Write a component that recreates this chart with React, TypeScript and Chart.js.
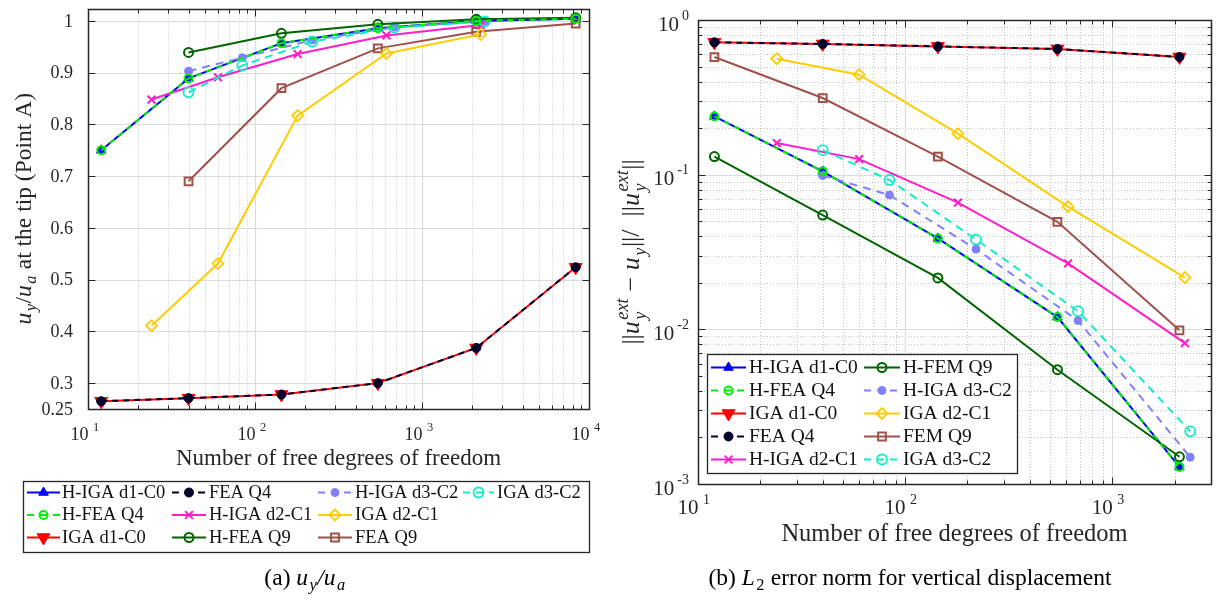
import React, { useEffect, useRef } from 'react';
import { Chart, registerables } from 'chart.js';

Chart.register(...registerables);

const SERIF = '"Liberation Serif", "DejaVu Serif", serif';
const AXIS_COLOR = '#262626';
const GRID_MAJOR = '#dcdcdc';
const GRID_MINOR = '#c4c4c4';

// ---------------- Panel (a): u_y/u_a at the tip ----------------
const dofA_Q4 = [12, 40, 144, 544, 2112, 8320];
const dofA_Q9 = [40, 144, 544, 2112, 8320];
const dofA_D2 = [24, 60, 180, 612, 2244];
const dofA_D3 = [40, 84, 220, 684, 2380];

const tipHIgaD1C0 = [0.75, 0.889, 0.957, 0.986, 1.0, 1.004];
const tipHFeaQ4 = [0.75, 0.889, 0.957, 0.986, 1.0, 1.004];
const tipIgaD1C0 = [0.265, 0.271, 0.278, 0.3, 0.368, 0.524];
const tipFeaQ4 = [0.265, 0.271, 0.278, 0.3, 0.368, 0.524];
const tipHIgaD2C1 = [0.848, 0.891, 0.936, 0.972, 0.992];
const tipHFeaQ9 = [0.939, 0.976, 0.9935, 1.003, 1.006];
const tipHIgaD3C2 = [0.903, 0.929, 0.963, 0.988, 0.999];
const tipIgaD2C1 = [0.411, 0.531, 0.817, 0.937, 0.974];
const tipFeaQ9 = [0.69, 0.87, 0.947, 0.979, 0.995];
const tipIgaD3C2 = [0.862, 0.914, 0.96, 0.987, 0.999];

const tickA_X = [10, 100, 1000, 10000];
const tickA_Y = [0.25, 0.3, 0.4, 0.5, 0.6, 0.7, 0.8, 0.9, 1];
const tickLabelA_Y = ['0.25', '0.3', '0.4', '0.5', '0.6', '0.7', '0.8', '0.9', '1'];

const labelsA = ['H-IGA d1-C0', 'H-FEA Q4', 'IGA d1-C0', 'FEA Q4', 'H-IGA d2-C1', 'H-FEA Q9', 'H-IGA d3-C2', 'IGA d2-C1', 'FEA Q9', 'IGA d3-C2'];

// ---------------- Panel (b): L2 error norm ----------------
const dofB_Q4 = [12, 40, 144, 544, 2112];
const dofB_Q9 = [12, 40, 144, 544, 2112];
const dofB_D2 = [24, 60, 180, 612, 2244];
const dofB_D3 = [40, 84, 220, 684, 2380];

const errHIgaD1C0 = [0.238, 0.105, 0.0387, 0.012, 0.00129];
const errHFeaQ4 = [0.238, 0.105, 0.0387, 0.012, 0.00129];
const errIgaD1C0 = [0.717, 0.7, 0.675, 0.65, 0.577];
const errFeaQ4 = [0.717, 0.7, 0.675, 0.65, 0.577];
const errHIgaD2C1 = [0.16, 0.126, 0.0659, 0.0267, 0.00815];
const errHFemQ9 = [0.131, 0.0548, 0.0215, 0.00548, 0.0015];
const errHIgaD3C2 = [0.0986, 0.0739, 0.033, 0.0114, 0.00149];
const errIgaD2C1 = [0.562, 0.443, 0.184, 0.0621, 0.0216];
const errFemQ9 = [0.576, 0.313, 0.131, 0.0496, 0.00986];
const errIgaD3C2 = [0.144, 0.0924, 0.0381, 0.0131, 0.00219];

const tickB_X = [10, 100, 1000];
const tickB_Y = [0.001, 0.01, 0.1, 1];

const labelsB = ['H-IGA d1-C0', 'H-FEA Q4', 'IGA d1-C0', 'FEA Q4', 'H-IGA d2-C1', 'H-FEM Q9', 'H-IGA d3-C2', 'IGA d2-C1', 'FEM Q9', 'IGA d3-C2'];

// ---------------- Styles (same order as labels) ----------------
type Style = { color: string; dash: number[]; marker: string; r: number; filled: boolean; lw: number; mlw: number; order: number };
const STYLES: Style[] = [
  { color: '#0000ff', dash: [], marker: 'triangle', r: 5.5, filled: true, lw: 2, mlw: 1, order: 8 },
  { color: '#00ee00', dash: [6, 5], marker: 'circle', r: 4, filled: false, lw: 2, mlw: 2, order: 1 },
  { color: '#ff0000', dash: [], marker: 'triangleDown', r: 7.5, filled: true, lw: 2, mlw: 1, order: 9 },
  { color: '#00002a', dash: [6, 5], marker: 'circle', r: 4.5, filled: true, lw: 2, mlw: 1, order: 0 },
  { color: '#ff1ecb', dash: [], marker: 'crossRot', r: 5.5, filled: false, lw: 2, mlw: 2, order: 4 },
  { color: '#006400', dash: [], marker: 'circle', r: 4.5, filled: false, lw: 2, mlw: 2, order: 2 },
  { color: '#8080ff', dash: [8, 6], marker: 'circle', r: 4, filled: true, lw: 2, mlw: 1, order: 5 },
  { color: '#ffcc00', dash: [], marker: 'rectRot', r: 5.5, filled: false, lw: 2, mlw: 1.8, order: 6 },
  { color: '#a0524a', dash: [], marker: 'rect', r: 5.5, filled: false, lw: 2, mlw: 2, order: 7 },
  { color: '#10eec8', dash: [8, 6], marker: 'circle', r: 5, filled: false, lw: 2, mlw: 1.8, order: 3 },
];

function makeDataset(label: string, xs: number[], ys: number[], st: Style) {
  return {
    label,
    data: xs.map((x, i) => ({ x, y: ys[i] })),
    borderColor: st.color,
    backgroundColor: st.color,
    borderWidth: st.lw,
    borderDash: st.dash,
    pointStyle: st.marker === 'triangleDown' ? 'triangle' : st.marker,
    pointRotation: st.marker === 'triangleDown' ? 180 : 0,
    pointRadius: st.r,
    pointBorderWidth: st.mlw,
    pointBorderColor: st.color,
    pointBackgroundColor: st.filled ? st.color : 'rgba(0,0,0,0)',
    tension: 0,
    fill: false,
    order: st.order,
    clip: 10,
  };
}

// ---------------- Drawing helpers ----------------
function fontStr(size: number, it?: boolean) {
  return `${it ? 'italic ' : ''}${size}px ${SERIF}`;
}

type Seg = { t: string; it?: boolean; sub?: string; sup?: string; scriptUp?: boolean };

function segScriptWidth(ctx: CanvasRenderingContext2D, s: Seg, F: number) {
  if (!s.sub && !s.sup) return 0;
  ctx.font = fontStr(F * 0.7, s.it && !s.scriptUp);
  let w = 0;
  if (s.sub) w = Math.max(w, ctx.measureText(s.sub).width);
  if (s.sup) w = Math.max(w, ctx.measureText(s.sup).width);
  return w + F * 0.08;
}

function richWidth(ctx: CanvasRenderingContext2D, segs: Seg[], F: number) {
  let w = 0;
  for (const s of segs) {
    ctx.font = fontStr(F, s.it);
    w += ctx.measureText(s.t).width;
    w += segScriptWidth(ctx, s, F);
  }
  return w;
}

function drawRich(ctx: CanvasRenderingContext2D, segs: Seg[], cx: number, cy: number, F: number, color: string) {
  const w = richWidth(ctx, segs, F);
  let x = cx - w / 2;
  const base = cy + F * 0.32;
  ctx.textAlign = 'left';
  ctx.textBaseline = 'alphabetic';
  ctx.fillStyle = color;
  for (const s of segs) {
    ctx.font = fontStr(F, s.it);
    ctx.fillText(s.t, x, base);
    x += ctx.measureText(s.t).width;
    if (s.sub || s.sup) {
      const sw = segScriptWidth(ctx, s, F);
      ctx.font = fontStr(F * 0.7, s.it && !s.scriptUp);
      const xs = x + F * 0.06;
      if (s.sub) ctx.fillText(s.sub, xs, base + F * 0.24);
      if (s.sup) ctx.fillText(s.sup, xs, base - F * 0.42);
      x += sw;
    }
  }
}

function drawRichRotated(ctx: CanvasRenderingContext2D, segs: Seg[], cx: number, cy: number, F: number, color: string) {
  ctx.save();
  ctx.translate(cx, cy);
  ctx.rotate(-Math.PI / 2);
  drawRich(ctx, segs, 0, 0, F, color);
  ctx.restore();
}

function logMinors(lo: number, hi: number): number[] {
  const out: number[] = [];
  for (let e = Math.floor(Math.log10(lo)) - 1; e <= Math.ceil(Math.log10(hi)); e++) {
    for (let k = 2; k <= 9; k++) {
      const v = k * Math.pow(10, e);
      if (v > lo * 1.0001 && v < hi * 0.9999) out.push(v);
    }
  }
  return out;
}

function vLine(ctx: CanvasRenderingContext2D, x: number, y0: number, y1: number) {
  const px = Math.round(x) + 0.5;
  ctx.beginPath();
  ctx.moveTo(px, y0);
  ctx.lineTo(px, y1);
  ctx.stroke();
}
function hLine(ctx: CanvasRenderingContext2D, y: number, x0: number, x1: number) {
  const py = Math.round(y) + 0.5;
  ctx.beginPath();
  ctx.moveTo(x0, py);
  ctx.lineTo(x1, py);
  ctx.stroke();
}

function drawMarker(ctx: CanvasRenderingContext2D, st: Style, x: number, y: number) {
  const r = st.r;
  ctx.save();
  ctx.setLineDash([]);
  ctx.lineWidth = st.mlw;
  ctx.strokeStyle = st.color;
  ctx.fillStyle = st.color;
  ctx.beginPath();
  if (st.marker === 'circle') {
    ctx.arc(x, y, r, 0, Math.PI * 2);
  } else if (st.marker === 'triangle' || st.marker === 'triangleDown') {
    let a = st.marker === 'triangle' ? 0 : Math.PI;
    for (let i = 0; i < 3; i++) {
      const px = x + Math.sin(a) * r;
      const py = y - Math.cos(a) * r;
      if (i === 0) ctx.moveTo(px, py); else ctx.lineTo(px, py);
      a += (2 * Math.PI) / 3;
    }
    ctx.closePath();
  } else if (st.marker === 'rect') {
    const s = r * Math.SQRT1_2;
    ctx.rect(x - s, y - s, 2 * s, 2 * s);
  } else if (st.marker === 'rectRot') {
    ctx.moveTo(x - r, y);
    ctx.lineTo(x, y - r);
    ctx.lineTo(x + r, y);
    ctx.lineTo(x, y + r);
    ctx.closePath();
  } else if (st.marker === 'crossRot') {
    const d = r * Math.SQRT1_2;
    ctx.moveTo(x - d, y - d);
    ctx.lineTo(x + d, y + d);
    ctx.moveTo(x + d, y - d);
    ctx.lineTo(x - d, y + d);
  }
  if (st.filled) ctx.fill();
  ctx.stroke();
  ctx.restore();
}

type Col = { l0: number; l1: number; tx: number };
function drawLegend(
  ctx: CanvasRenderingContext2D,
  labels: string[],
  box: { x: number; y: number; w: number; h: number },
  cols: Col[],
  rows: number[],
  F: number
) {
  ctx.save();
  ctx.fillStyle = '#ffffff';
  ctx.fillRect(box.x, box.y, box.w, box.h);
  ctx.strokeStyle = AXIS_COLOR;
  ctx.lineWidth = 1.3;
  ctx.setLineDash([]);
  ctx.strokeRect(box.x + 0.5, box.y + 0.5, box.w, box.h);
  labels.forEach((lab, i) => {
    const st = STYLES[i];
    const c = cols[Math.floor(i / rows.length)];
    const y = rows[i % rows.length];
    ctx.save();
    ctx.strokeStyle = st.color;
    ctx.lineWidth = st.lw;
    ctx.setLineDash(st.dash.length ? [7, 6] : []);
    ctx.beginPath();
    ctx.moveTo(c.l0, y + 0.5);
    ctx.lineTo(c.l1, y + 0.5);
    ctx.stroke();
    ctx.restore();
    drawMarker(ctx, st, (c.l0 + c.l1) / 2, y + 0.5);
    ctx.font = fontStr(F);
    ctx.fillStyle = '#111111';
    ctx.textAlign = 'left';
    ctx.textBaseline = 'middle';
    ctx.fillText(lab, c.tx, y + 1);
  });
  ctx.restore();
}

function drawPow10(ctx: CanvasRenderingContext2D, e: number, xRightOf10: number, cy10: number, cyExp: number, F: number, Fe: number, expLeft: number | null, expRight: number | null) {
  ctx.save();
  ctx.fillStyle = AXIS_COLOR;
  ctx.textBaseline = 'middle';
  const es = e < 0 ? '-' + Math.abs(e) : String(e);
  ctx.font = fontStr(Fe);
  const ew = ctx.measureText(es).width;
  let tenRight = xRightOf10;
  let ex = 0;
  if (expRight !== null) {
    ex = expRight - ew;
    tenRight = ex - 3;
  } else {
    ex = expLeft as number;
  }
  ctx.textAlign = 'left';
  ctx.fillText(es, ex, cyExp);
  ctx.font = fontStr(F);
  ctx.textAlign = 'right';
  ctx.fillText('10', tenRight, cy10);
  ctx.restore();
}

function drawFrameAndTicks(
  ctx: CanvasRenderingContext2D,
  ar: { left: number; right: number; top: number; bottom: number },
  xMaj: number[], xMin: number[], yMaj: number[], yMin: number[]
) {
  ctx.save();
  ctx.strokeStyle = AXIS_COLOR;
  ctx.lineWidth = 1;
  ctx.setLineDash([]);
  const L = Math.round(ar.left) + 0.5, R = Math.round(ar.right) + 0.5;
  const T = Math.round(ar.top) + 0.5, B = Math.round(ar.bottom) + 0.5;
  const tick = (len: number, xs: number[], ys: number[]) => {
    for (const x of xs) {
      vLine(ctx, x, B, B - len);
      vLine(ctx, x, T, T + len);
    }
    for (const y of ys) {
      hLine(ctx, y, L, L + len);
      hLine(ctx, y, R, R - len);
    }
  };
  tick(7, xMaj, yMaj);
  tick(4, xMin, yMin);
  ctx.lineWidth = 1.5;
  ctx.strokeRect(L, T, R - L, B - T);
  ctx.restore();
}

// ---------------- Plugins ----------------
const decorA = {
  id: 'decorA',
  beforeDatasetsDraw(chart: any) {
    const { ctx, chartArea: ar } = chart;
    const x = chart.scales.x, y = chart.scales.y;
    ctx.save();
    ctx.lineWidth = 1;
    ctx.strokeStyle = GRID_MINOR;
    ctx.setLineDash([1, 2]);
    for (const v of logMinors(10, 10000)) vLine(ctx, x.getPixelForValue(v), ar.top, ar.bottom);
    ctx.setLineDash([]);
    ctx.strokeStyle = GRID_MAJOR;
    ctx.lineWidth = 1.2;
    for (const v of tickA_X) vLine(ctx, x.getPixelForValue(v), ar.top, ar.bottom);
    for (const v of tickA_Y) if (v > 0.25) hLine(ctx, y.getPixelForValue(v), ar.left, ar.right);
    ctx.restore();
  },
  afterDraw(chart: any) {
    const { ctx, chartArea: ar } = chart;
    const x = chart.scales.x, y = chart.scales.y;
    drawFrameAndTicks(
      ctx, ar,
      tickA_X.map((v) => x.getPixelForValue(v)),
      logMinors(10, 10000).map((v) => x.getPixelForValue(v)),
      tickA_Y.map((v) => y.getPixelForValue(v)),
      []
    );
    ctx.save();
    ctx.fillStyle = AXIS_COLOR;
    ctx.font = fontStr(18);
    ctx.textAlign = 'right';
    ctx.textBaseline = 'middle';
    tickA_Y.forEach((v, i) => ctx.fillText(tickLabelA_Y[i], ar.left - 15, y.getPixelForValue(v) + 1));
    ctx.restore();
    for (const v of tickA_X) {
      const px = x.getPixelForValue(v);
      drawPow10(ctx, Math.round(Math.log10(v)), px + 0.5, ar.bottom + 26, ar.bottom + 19, 18, 12.5, px + 5, null);
    }
    ctx.save();
    ctx.fillStyle = AXIS_COLOR;
    ctx.font = fontStr(23);
    ctx.textAlign = 'center';
    ctx.textBaseline = 'middle';
    ctx.fillText('Number of free degrees of freedom', (ar.left + ar.right) / 2, 459);
    ctx.restore();
    drawRichRotated(
      ctx,
      [{ t: 'u', it: true, sub: 'y' }, { t: '/' }, { t: 'u', it: true, sub: 'a' }, { t: ' at the tip (Point A)' }],
      23, (ar.top + ar.bottom) / 2, 23.5, AXIS_COLOR
    );
    drawLegend(
      ctx, labelsA,
      { x: 23, y: 481, w: 566, h: 71 },
      [
        { l0: 27, l1: 60, tx: 62 },
        { l0: 172, l1: 206, tx: 209 },
        { l0: 318, l1: 352, tx: 355 },
        { l0: 463, l1: 494, tx: 497 },
      ],
      [492, 514.5, 537],
      18.5
    );
    drawRich(
      ctx,
      [{ t: '(a) ' }, { t: 'u', it: true, sub: 'y' }, { t: '/', it: true }, { t: 'u', it: true, sub: 'a' }],
      305, 577, 23.5, '#000000'
    );
  },
};

const decorB = {
  id: 'decorB',
  beforeDatasetsDraw(chart: any) {
    const { ctx, chartArea: ar } = chart;
    const x = chart.scales.x, y = chart.scales.y;
    ctx.save();
    ctx.lineWidth = 1;
    ctx.strokeStyle = GRID_MINOR;
    ctx.setLineDash([1, 2]);
    for (const v of logMinors(10, 3000)) vLine(ctx, x.getPixelForValue(v), ar.top, ar.bottom);
    for (const v of logMinors(0.001, 1)) hLine(ctx, y.getPixelForValue(v), ar.left, ar.right);
    ctx.setLineDash([]);
    ctx.strokeStyle = GRID_MAJOR;
    ctx.lineWidth = 1.2;
    for (const v of tickB_X) vLine(ctx, x.getPixelForValue(v), ar.top, ar.bottom);
    for (const v of tickB_Y) hLine(ctx, y.getPixelForValue(v), ar.left, ar.right);
    ctx.restore();
  },
  afterDraw(chart: any) {
    const { ctx, chartArea: ar } = chart;
    const x = chart.scales.x, y = chart.scales.y;
    drawFrameAndTicks(
      ctx, ar,
      tickB_X.map((v) => x.getPixelForValue(v)),
      logMinors(10, 3000).map((v) => x.getPixelForValue(v)),
      tickB_Y.map((v) => y.getPixelForValue(v)),
      logMinors(0.001, 1).map((v) => y.getPixelForValue(v))
    );
    for (const v of tickB_Y) {
      const py = y.getPixelForValue(v);
      drawPow10(ctx, Math.round(Math.log10(v)), 0, py + 5, py - 4, 21, 14, null, ar.left - 9);
    }
    for (const v of tickB_X) {
      const px = x.getPixelForValue(v);
      drawPow10(ctx, Math.round(Math.log10(v)), px + 0.5, ar.bottom + 24, ar.bottom + 16, 21, 14, px + 5, null);
    }
    ctx.save();
    ctx.fillStyle = AXIS_COLOR;
    ctx.font = fontStr(24.5);
    ctx.textAlign = 'center';
    ctx.textBaseline = 'middle';
    ctx.fillText('Number of free degrees of freedom', (ar.left + ar.right) / 2, 535);
    ctx.restore();
    drawRichRotated(
      ctx,
      [
        { t: '||' },
        { t: 'u', it: true, sub: 'y', sup: 'ext' },
        { t: ' \u2212 ' },
        { t: 'u', it: true, sub: 'y' },
        { t: '||/  ||' },
        { t: 'u', it: true, sub: 'y', sup: 'ext' },
        { t: '||' },
      ],
      21, (ar.top + ar.bottom) / 2, 26, AXIS_COLOR
    );
    drawLegend(
      ctx, labelsB,
      { x: 97, y: 354, w: 310, h: 119 },
      [
        { l0: 101, l1: 136, tx: 139 },
        { l0: 254, l1: 290, tx: 293 },
      ],
      [367, 390, 413, 436, 459],
      19.5
    );
    drawRich(
      ctx,
      [{ t: '(b) ' }, { t: 'L', it: true, sub: '2', scriptUp: true }, { t: ' error norm for vertical displacement' }],
      300, 577, 23.5, '#000000'
    );
  },
};

function baseOptions(pad: any, xMax: number, yType: string, yMin: number, yMax: number) {
  return {
    animation: false,
    responsive: false,
    devicePixelRatio: 1,
    events: [],
    layout: { padding: pad },
    plugins: { legend: { display: false }, tooltip: { enabled: false }, title: { display: false } },
    scales: {
      x: { type: 'logarithmic', min: 10, max: xMax, display: false },
      y: { type: yType, min: yMin, max: yMax, display: false },
    },
  };
}

function configA(): any {
  const xs = [dofA_Q4, dofA_Q4, dofA_Q4, dofA_Q4, dofA_D2, dofA_Q9, dofA_D3, dofA_D2, dofA_Q9, dofA_D3];
  const ys = [tipHIgaD1C0, tipHFeaQ4, tipIgaD1C0, tipFeaQ4, tipHIgaD2C1, tipHFeaQ9, tipHIgaD3C2, tipIgaD2C1, tipFeaQ9, tipIgaD3C2];
  return {
    type: 'line',
    data: { datasets: labelsA.map((l, i) => makeDataset(l, xs[i], ys[i], STYLES[i])) },
    options: baseOptions({ left: 88, right: 21, top: 5, bottom: 190 }, 10000, 'linear', 0.25, 1.024),
    plugins: [decorA],
  };
}

function configB(): any {
  const xs = [dofB_Q4, dofB_Q4, dofB_Q4, dofB_Q4, dofB_D2, dofB_Q9, dofB_D3, dofB_D2, dofB_Q9, dofB_D3];
  const ys = [errHIgaD1C0, errHFeaQ4, errIgaD1C0, errFeaQ4, errHIgaD2C1, errHFemQ9, errHIgaD3C2, errIgaD2C1, errFemQ9, errIgaD3C2];
  return {
    type: 'line',
    data: { datasets: labelsB.map((l, i) => makeDataset(l, xs[i], ys[i], STYLES[i])) },
    options: baseOptions({ left: 88, right: 16, top: 20, bottom: 115 }, 3000, 'logarithmic', 0.001, 1),
    plugins: [decorB],
  };
}

export default function App() {
  const refA = useRef<HTMLCanvasElement>(null);
  const refB = useRef<HTMLCanvasElement>(null);
  useEffect(() => {
    const a = new Chart(refA.current as HTMLCanvasElement, configA());
    const b = new Chart(refB.current as HTMLCanvasElement, configB());
    return () => {
      a.destroy();
      b.destroy();
    };
  }, []);
  return (
    <div style={{ position: 'fixed', left: 0, top: 0, width: 1227, height: 599, background: '#ffffff', overflow: 'hidden' }}>
      <canvas ref={refA} width={610} height={599} style={{ position: 'absolute', left: 0, top: 0, width: 610, height: 599 }} />
      <canvas ref={refB} width={617} height={599} style={{ position: 'absolute', left: 610, top: 0, width: 617, height: 599 }} />
    </div>
  );
}
